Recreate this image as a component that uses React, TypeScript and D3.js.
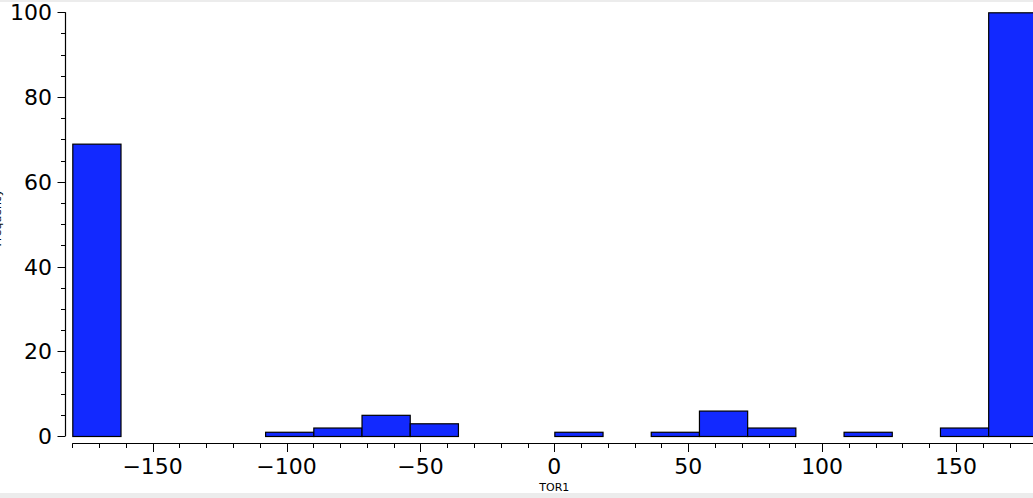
import React, { useEffect, useRef } from "react";
import * as d3 from "d3";

const binStarts = [-180, -162, -144, -126, -108, -90, -72, -54, -36, -18, 0, 18, 36, 54, 72, 90, 108, 126, 144, 162];
const counts = [69, 0, 0, 0, 1, 2, 5, 3, 0, 0, 1, 0, 1, 6, 2, 0, 1, 0, 2, 100];
const binWidth = 18;
const xMajorTicks = [-150, -100, -50, 0, 50, 100, 150];
const yMajorTicks = [0, 20, 40, 60, 80, 100];
const xLabel = "TOR1";
const yLabel = "Frequency";

const W = 1033;
const H = 498;

export default function App() {
  const ref = useRef<SVGSVGElement>(null);
  useEffect(() => {
    const svg = d3.select(ref.current);
    svg.selectAll("*").remove();
    const x = d3.scaleLinear().domain([-180, 180]).range([72.3, 72.3 + 360 * 2.678]);
    const y = d3.scaleLinear().domain([0, 100]).range([436, 12.3]);
    const font = "'DejaVu Sans', Verdana, sans-serif";

    svg.append("rect").attr("x", 0).attr("y", 0).attr("width", W).attr("height", H).attr("fill", "#fff");
    svg.append("rect").attr("x", 0).attr("y", 0).attr("width", W).attr("height", 2).attr("fill", "#ececec");
    svg.append("rect").attr("x", 0).attr("y", 493).attr("width", W).attr("height", 5).attr("fill", "#ececec");

    // bars
    svg.append("g")
      .selectAll("rect")
      .data(binStarts.map((s, i) => ({ s, c: counts[i] })).filter(d => d.c > 0))
      .join("rect")
      .attr("x", d => x(d.s) + 0.5)
      .attr("y", d => y(d.c) + 0.5)
      .attr("width", d => x(d.s + binWidth) - x(d.s))
      .attr("height", d => y(0) - y(d.c))
      .attr("fill", "#1229ff")
      .attr("stroke", "#000")
      .attr("stroke-width", 1.2);

    // y axis
    const axX = 65.5;
    const gy = svg.append("g");
    gy.append("line").attr("x1", axX).attr("x2", axX).attr("y1", y(100)).attr("y2", y(0)).attr("stroke", "#000").attr("stroke-width", 1.2);
    const yMinor = d3.range(0, 101, 5);
    gy.selectAll("line.t").data(yMinor).join("line").attr("class", "t")
      .attr("x1", d => (d % 20 === 0 ? axX - 8 : axX - 4.5))
      .attr("x2", axX)
      .attr("y1", d => Math.round(y(d)) + 0.5)
      .attr("y2", d => Math.round(y(d)) + 0.5)
      .attr("stroke", "#000").attr("stroke-width", 1);
    gy.selectAll("text").data(yMajorTicks).join("text")
      .attr("x", 52)
      .attr("y", d => y(d) + 8)
      .attr("text-anchor", "end")
      .attr("font-family", font)
      .attr("font-size", 22)
      .attr("fill", "#000")
      .text(d => String(d));

    // x axis
    const axY = 443.5;
    const gx = svg.append("g");
    gx.append("line").attr("x1", x(-180)).attr("x2", W).attr("y1", axY).attr("y2", axY).attr("stroke", "#000").attr("stroke-width", 1.2);
    const xMinor = d3.range(-180, 181, 10);
    gx.selectAll("line.t").data(xMinor).join("line").attr("class", "t")
      .attr("x1", d => Math.round(x(d)) + 0.5)
      .attr("x2", d => Math.round(x(d)) + 0.5)
      .attr("y1", axY)
      .attr("y2", d => (d % 50 === 0 ? axY + 8.5 : axY + 4.5))
      .attr("stroke", "#000").attr("stroke-width", 1);
    gx.selectAll("text").data(xMajorTicks).join("text")
      .attr("x", d => x(d))
      .attr("y", 474)
      .attr("text-anchor", "middle")
      .attr("font-family", font)
      .attr("font-size", 22)
      .attr("fill", "#000")
      .text(d => (d < 0 ? "\u2212" + Math.abs(d) : String(d)));

    svg.append("text")
      .attr("x", x(0))
      .attr("y", 491)
      .attr("text-anchor", "middle")
      .attr("font-family", font)
      .attr("font-size", 11)
      .attr("fill", "#000")
      .text(xLabel);

    svg.append("text")
      .attr("transform", "translate(1,218) rotate(-90)")
      .attr("text-anchor", "middle")
      .attr("font-family", font)
      .attr("font-size", 11)
      .attr("fill", "#000")
      .text(yLabel);
  }, []);
  return (
    <svg ref={ref} width={W} height={H} style={{ position: "absolute", left: 0, top: 0, display: "block" }} />
  );
}
